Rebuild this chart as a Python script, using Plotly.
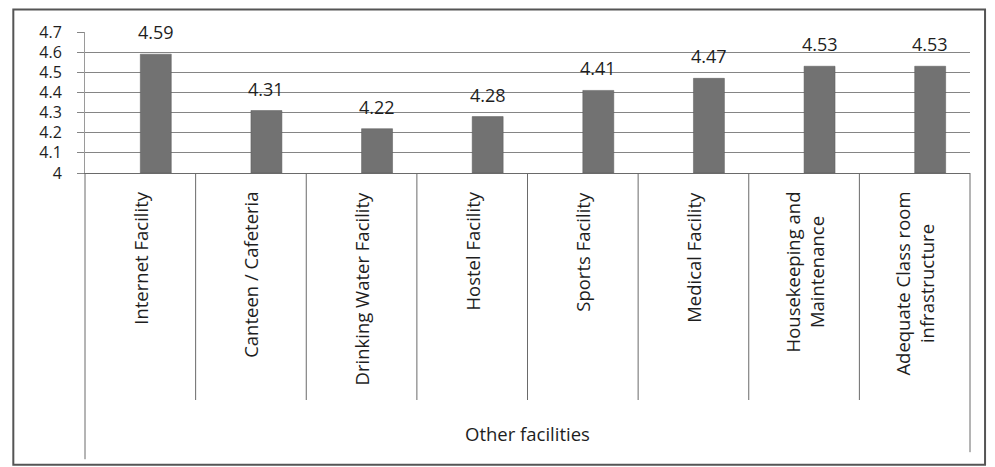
import plotly.graph_objects as go

categories = ["Internet Facility", "Canteen / Cafeteria", "Drinking Water Facility",
              "Hostel Facility", "Sports Facility", "Medical Facility",
              "Housekeeping and<br>Maintenance", "Adequate Class room<br>infrastructure"]
values = [4.59, 4.31, 4.22, 4.28, 4.41, 4.47, 4.53, 4.53]
value_labels = ["4.59", "4.31", "4.22", "4.28", "4.41", "4.47", "4.53", "4.53"]
y_ticks = [4.0, 4.1, 4.2, 4.3, 4.4, 4.5, 4.6, 4.7]
y_tick_labels = ["4", "4.1", "4.2", "4.3", "4.4", "4.5", "4.6", "4.7"]
x_title = "Other facilities"

FONT = "Open Sans, sans-serif"
TXT = "#1e1e1e"
BAR_W = 0.28
n = len(categories)

fig = go.Figure()
fig.add_trace(go.Bar(
    x=list(range(n)), y=[v - 4.0 for v in values], base=4.0,
    width=BAR_W, offset=0,
    marker=dict(color="#727272", line=dict(color="#5a5a5a", width=0.5)),
    showlegend=False, hoverinfo="skip",
))

annotations = []
for i, (v, lab) in enumerate(zip(values, value_labels)):
    annotations.append(dict(x=i + BAR_W / 2, y=v, xref="x", yref="y", text=lab,
                            showarrow=False, yanchor="bottom", yshift=8,
                            font=dict(family=FONT, size=18, color=TXT)))
for i, c in enumerate(categories):
    annotations.append(dict(x=(i + 0.5) / n, y=-0.12, xref="paper", yref="paper",
                            text=c, showarrow=False, textangle=-90, yanchor="top",
                            xanchor="center", align="center",
                            font=dict(family=FONT, size=18.5, color=TXT)))
annotations.append(dict(x=0.5, y=-1.845, xref="paper", yref="paper", text=x_title,
                        showarrow=False, yanchor="middle",
                        font=dict(family=FONT, size=18.5, color=TXT)))

shapes = []
line_col = "#6a6a6a"
for i in range(1, n):
    shapes.append(dict(type="line", xref="paper", yref="paper", x0=i / n, x1=i / n,
                       y0=0, y1=-1.61, line=dict(color=line_col, width=1)))
shapes.append(dict(type="line", xref="paper", yref="paper", x0=0, x1=0,
                   y0=0, y1=-2.03, line=dict(color=line_col, width=1)))
shapes.append(dict(type="line", xref="paper", yref="paper", x0=1, x1=1,
                   y0=0, y1=-1.98, line=dict(color=line_col, width=1)))
shapes.append(dict(type="rect", xref="paper", yref="paper", x0=-0.081, x1=1.017,
                   y0=-2.07, y1=1.16, line=dict(color="#555555", width=2),
                   fillcolor="rgba(0,0,0,0)", layer="below"))

fig.update_layout(
    width=995, height=467,
    margin=dict(l=85, r=25, t=32, b=294),
    paper_bgcolor="white", plot_bgcolor="white",
    annotations=annotations, shapes=shapes,
    xaxis=dict(range=[-0.5, n - 0.5], showticklabels=False, showgrid=False,
               zeroline=False, showline=True, linecolor=line_col, linewidth=1,
               ticks=""),
    yaxis=dict(range=[4.0, 4.7], tickvals=y_ticks, ticktext=y_tick_labels,
               showgrid=True, gridcolor="#858585", gridwidth=1,
               zeroline=False, showline=True, linecolor="#9a9a9a", linewidth=1,
               ticks="outside", ticklen=7, tickcolor="#858585",
               ticklabelstandoff=12,
               tickfont=dict(family=FONT, size=16, color=TXT)),
)

fig.write_html("out.html", config={"displayModeBar": False},
               post_script="document.body.style.margin='0';")
